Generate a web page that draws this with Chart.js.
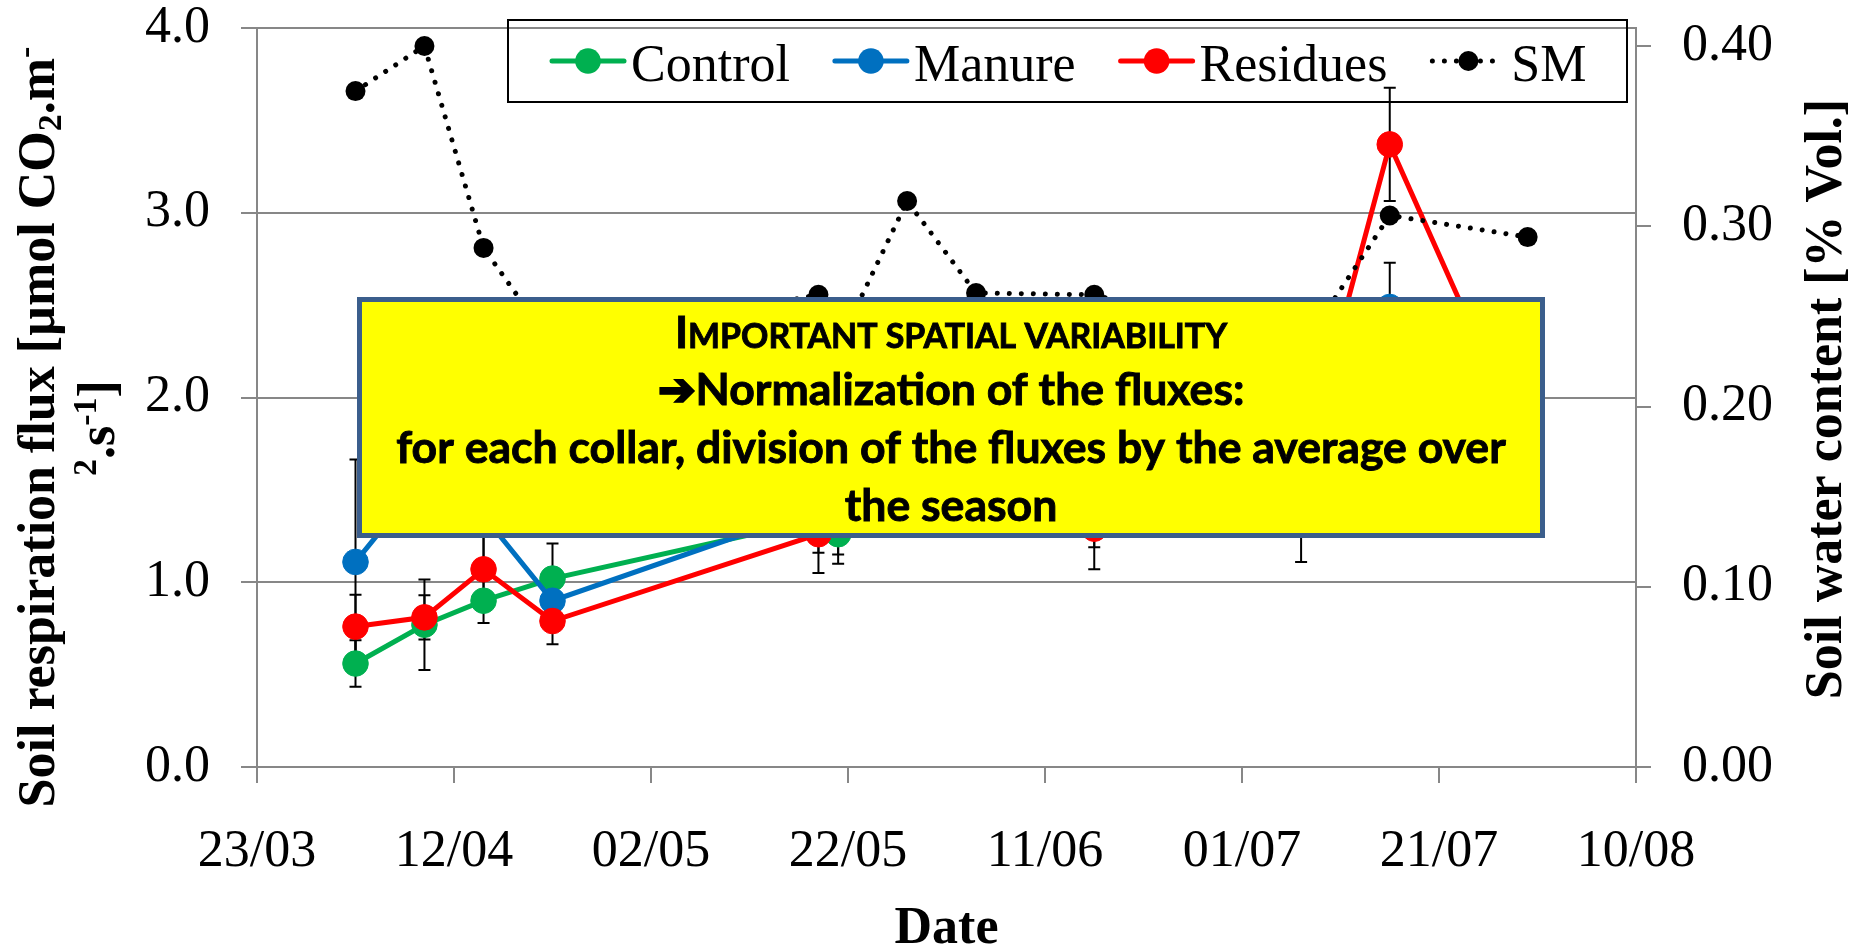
<!DOCTYPE html>
<html>
<head>
<meta charset="utf-8">
<script src="https://cdn.jsdelivr.net/npm/chart.js@4.4.1/dist/chart.umd.min.js"></script>
<style>
  html, body { margin: 0; padding: 0; background: #fff; }
</style>
</head>
<body>
<canvas id="chart" width="1862" height="949"></canvas>
<script>
// sampling dates (dd/mm) of the soil respiration campaigns
const fluxDates = ['02/04', '09/04', '15/04', '22/04', '19/05', '21/05', '16/06', '07/07', '16/07', '30/07'];
const control  = [0.56, 0.77, 0.90, 1.02, 1.34, 1.26, 1.50, 1.60, 1.90, 1.60];
const manure   = [1.11, 1.57, 1.36, 0.90, 1.40, 1.45, 1.55, 1.75, 2.49, 1.90];
const residues = [0.76, 0.81, 1.07, 0.79, 1.26, 1.45, 1.29, 1.58, 3.37, 1.70];
// standard deviations (error bars)
const controlErr  = [0.126, 0.245, 0.121, 0.19, 0.08, 0.16, 0.31, 0.20, 0.25, 0.20];
const manureErr   = [0.554, 0.20, 0.25, 0.06, 0.24, 0.30, 0.20, 0.20, 0.24, 0.20];
const residuesErr = [0.173, 0.12, 0.18, 0.126, 0.21, 0.20, 0.22, 0.47, 0.306, 0.25];

// soil moisture (right axis)
const smDates  = ['02/04', '09/04', '15/04', '22/04', '19/05', '21/05', '28/05', '04/06', '16/06', '07/07', '16/07', '30/07'];
const smValues = [0.375, 0.400, 0.288, 0.234, 0.262, 0.234, 0.314, 0.263, 0.262, 0.232, 0.306, 0.294];

// axes
const xTickLabels = ['23/03', '12/04', '02/05', '22/05', '11/06', '01/07', '21/07', '10/08'];
const xStep = 20;           // days between date ticks
const fluxMax = 4;          // left axis
const smMax = 0.41;         // right axis

// left axis title, two lines, pieces are [text, 'sub' | 'sup' | '']
const yTitleLines = [
  [['Soil respiration flux [\u00B5mol CO', ''], ['2', 'sub'], ['.m', ''], ['-', 'sup']],
  [['2', 'sup'], ['.s', ''], ['-1', 'sup'], [']', '']]
];
const y1Title = 'Soil water content [% Vol.]';

const noteLines = [
  'IMPORTANT SPATIAL VARIABILITY',
  '\u2794Normalization of the fluxes:',
  'for each collar, division of the fluxes by the average over',
  'the season'
];

const serif = '"Liberation Serif", "Times New Roman", serif';
const gridColor = '#878787';

// days since the first tick date (23/03)
function dayOf(s) {
  const [d, m] = s.split('/').map(Number);
  const [d0, m0] = xTickLabels[0].split('/').map(Number);
  return Math.round((Date.UTC(2010, m - 1, d) - Date.UTC(2010, m0 - 1, d0)) / 86400000);
}

function points(dates, values) {
  return dates.map((d, i) => ({ x: dayOf(d), y: values[i] }));
}

function fluxSet(label, color, values, errors, order) {
  return {
    label: label,
    data: points(fluxDates, values),
    errors: errors,
    yAxisID: 'y',
    order: order,
    borderColor: color,
    backgroundColor: color,
    borderWidth: 5,
    pointRadius: 12.8,
    pointBorderWidth: 1,
    pointBorderColor: color,
    pointBackgroundColor: color,
    tension: 0
  };
}

// fixed axis widths so the plot area lands where the original one is
function fixWidth(w) {
  return s => {
    s.width = w;
    s.paddingTop = 0;
    s.paddingBottom = 0;
  };
}

// text with sub/superscripts, centred on (0,0), baseline at y = 0
function drawRich(ctx, pieces, size) {
  const fontN = 'bold ' + size + 'px ' + serif;
  const fontS = 'bold ' + Math.round(size * 0.65) + 'px ' + serif;
  let total = 0;
  pieces.forEach(p => { ctx.font = p[1] ? fontS : fontN; total += ctx.measureText(p[0]).width; });
  let x = -total / 2;
  pieces.forEach(p => {
    ctx.font = p[1] ? fontS : fontN;
    const dy = p[1] === 'sub' ? size * 0.14 : p[1] === 'sup' ? -size * 0.34 : 0;
    ctx.fillText(p[0], x, dy);
    x += ctx.measureText(p[0]).width;
  });
}

// error bars, drawn under the lines and markers
const errorBars = {
  id: 'errorBars',
  beforeDatasetsDraw(chart) {
    const { ctx, scales: { x, y } } = chart;
    ctx.save();
    ctx.strokeStyle = '#000';
    ctx.lineWidth = 2;
    chart.data.datasets.forEach(ds => {
      if (!ds.errors) return;
      ds.data.forEach((p, i) => {
        const px = x.getPixelForValue(p.x);
        const top = y.getPixelForValue(p.y + ds.errors[i]);
        const bot = y.getPixelForValue(p.y - ds.errors[i]);
        ctx.beginPath();
        ctx.moveTo(px, top); ctx.lineTo(px, bot);
        ctx.moveTo(px - 6, top); ctx.lineTo(px + 6, top);
        ctx.moveTo(px - 6, bot); ctx.lineTo(px + 6, bot);
        ctx.stroke();
      });
    });
    ctx.restore();
  }
};

// yellow call-out box laid over the plot
const noteBox = {
  id: 'noteBox',
  afterDatasetsDraw(chart) {
    const ctx = chart.ctx;
    const box = { x: 357, y: 297, w: 1188, h: 241 };
    ctx.save();
    ctx.fillStyle = '#FFFF00';
    ctx.fillRect(box.x, box.y, box.w, box.h);
    ctx.lineWidth = 5;
    ctx.strokeStyle = '#3B5E8C';
    ctx.strokeRect(box.x + 2.5, box.y + 2.5, box.w - 5, box.h - 5);

    const fam = 'Lato, "Open Sans", sans-serif';
    ctx.font = 'bold 40px ' + fam;
    const size = 40 * 1110 / ctx.measureText(noteLines[2]).width;
    const cx = box.x + box.w / 2;
    const base = [348, 405, 463, 521];
    ctx.fillStyle = '#000';
    ctx.strokeStyle = '#000';
    ctx.lineWidth = 0.9;
    ctx.textBaseline = 'alphabetic';

    // first line in small capitals
    const big = 'bold ' + size + 'px ' + fam;
    const small = 'bold ' + (size * 0.76) + 'px ' + fam;
    const first = noteLines[0][0], rest = noteLines[0].slice(1);
    ctx.font = big; const w1 = ctx.measureText(first).width;
    ctx.font = small; const w2 = ctx.measureText(rest).width;
    const x0 = cx - (w1 + w2) / 2;
    ctx.textAlign = 'left';
    ctx.font = big; ctx.fillText(first, x0, base[0]); ctx.strokeText(first, x0, base[0]);
    ctx.font = small; ctx.fillText(rest, x0 + w1, base[0]); ctx.strokeText(rest, x0 + w1, base[0]);

    ctx.font = big;
    ctx.textAlign = 'center';
    for (let i = 1; i < noteLines.length; i++) {
      ctx.fillText(noteLines[i], cx, base[i]);
      ctx.strokeText(noteLines[i], cx, base[i]);
    }
    ctx.restore();
  }
};

// legend box and the two rotated axis titles
const legendAndTitles = {
  id: 'legendAndTitles',
  afterDraw(chart) {
    const ctx = chart.ctx;
    ctx.save();
    ctx.strokeStyle = '#000';
    ctx.lineWidth = 2;
    ctx.strokeRect(508, 20, 1119, 82);

    ctx.font = '52px ' + serif;
    ctx.textBaseline = 'alphabetic';
    ctx.textAlign = 'left';
    let x = 552;
    const ly = 61;
    chart.data.datasets.forEach(ds => {
      ctx.save();
      ctx.strokeStyle = ds.borderColor;
      ctx.lineWidth = ds.borderWidth;
      ctx.lineCap = ds.borderCapStyle || 'round';
      if (ds.borderDash) ctx.setLineDash(ds.borderDash);
      ctx.beginPath();
      ctx.moveTo(x, ly); ctx.lineTo(x + 72, ly);
      ctx.stroke();
      ctx.setLineDash([]);
      ctx.fillStyle = ds.pointBackgroundColor;
      ctx.beginPath();
      ctx.arc(x + 36, ly, ds.pointRadius, 0, Math.PI * 2);
      ctx.fill();
      ctx.restore();
      ctx.fillStyle = '#000';
      ctx.fillText(ds.label, x + 79, 81);
      x += 79 + ctx.measureText(ds.label).width + 45;
    });
    ctx.restore();

    // left title
    const yCentres = [[54, 427], [114, 428]];
    yTitleLines.forEach((line, i) => {
      ctx.save();
      ctx.translate(yCentres[i][0], yCentres[i][1]);
      ctx.rotate(-Math.PI / 2);
      ctx.fillStyle = '#000';
      ctx.textAlign = 'left';
      ctx.textBaseline = 'alphabetic';
      drawRich(ctx, line, 52);
      ctx.restore();
    });

    // right title
    ctx.save();
    ctx.translate(1828, 399);
    ctx.rotate(-Math.PI / 2);
    ctx.fillStyle = '#000';
    ctx.font = 'bold 52px ' + serif;
    ctx.textAlign = 'center';
    ctx.textBaseline = 'middle';
    ctx.fillText(y1Title, 0, 0);
    ctx.restore();
  }
};

const ctx = document.getElementById('chart').getContext('2d');
new Chart(ctx, {
  type: 'line',
  data: {
    datasets: [
      fluxSet('Control', '#00B050', control, controlErr, 4),
      fluxSet('Manure', '#0070C0', manure, manureErr, 3),
      fluxSet('Residues', '#FF0000', residues, residuesErr, 2),
      {
        label: 'SM',
        data: points(smDates, smValues),
        yAxisID: 'y1',
        order: 1,
        borderColor: '#000',
        backgroundColor: '#000',
        borderWidth: 5,
        borderDash: [0.01, 12],
        borderCapStyle: 'round',
        pointRadius: 10,
        pointBorderWidth: 0,
        pointBackgroundColor: '#000',
        tension: 0
      }
    ]
  },
  options: {
    responsive: false,
    animation: false,
    devicePixelRatio: 1,
    layout: { padding: { top: 28, left: 0, right: 0, bottom: 0 } },
    plugins: {
      legend: { display: false },
      tooltip: { enabled: false }
    },
    scales: {
      x: {
        type: 'linear',
        min: 0,
        max: xStep * (xTickLabels.length - 1),
        afterFit: s => { s.height = 182; },
        grid: { drawOnChartArea: false, drawTicks: true, tickLength: 16, color: gridColor, lineWidth: 2 },
        border: { color: gridColor, width: 2 },
        ticks: {
          stepSize: xStep,
          autoSkip: false,
          maxRotation: 0,
          padding: 43,
          color: '#000',
          font: { family: serif, size: 52, lineHeight: 1 },
          callback: v => xTickLabels[Math.round(v / xStep)]
        },
        title: {
          display: true,
          text: 'Date',
          color: '#000',
          padding: 0,
          font: { family: serif, size: 52, weight: 'bold', lineHeight: 0.75 }
        }
      },
      y: {
        position: 'left',
        min: 0,
        max: fluxMax,
        afterFit: fixWidth(257),
        grid: { color: gridColor, lineWidth: 2, tickLength: 16 },
        border: { color: gridColor, width: 2 },
        ticks: {
          stepSize: 1,
          padding: 31,
          color: '#000',
          font: { family: serif, size: 52, lineHeight: 1 },
          callback: v => v.toFixed(1)
        }
      },
      y1: {
        position: 'right',
        min: 0,
        max: smMax,
        afterFit: fixWidth(226),
        grid: { drawOnChartArea: false, color: gridColor, lineWidth: 2, tickLength: 15 },
        border: { color: gridColor, width: 2 },
        ticks: {
          stepSize: 0.1,
          includeBounds: false,
          padding: 31,
          color: '#000',
          font: { family: serif, size: 52, lineHeight: 1 },
          callback: v => v.toFixed(2)
        }
      }
    }
  },
  plugins: [errorBars, noteBox, legendAndTitles]
});
</script>
</body>
</html>
